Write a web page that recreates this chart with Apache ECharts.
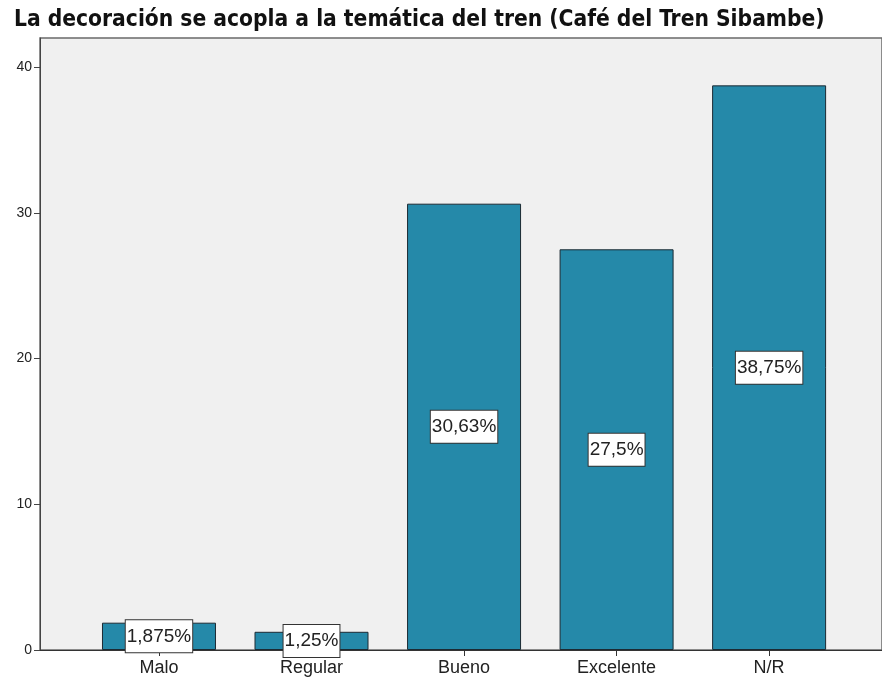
<!DOCTYPE html>
<html>
<head>
    <meta charset="utf-8">
    <script src="https://cdn.jsdelivr.net/npm/echarts@6/dist/echarts.min.js"></script>
    <style>
        html, body { margin: 0; padding: 0; background: #fff; }
    </style>
</head>
<body>
    <div id="main" style="width:882px;height:687px;"></div>
    <script type="text/javascript">
        // categorias y porcentajes
        var categorias = ['Malo', 'Regular', 'Bueno', 'Excelente', 'N/R'];
        var porcentajes = [1.875, 1.25, 30.63, 27.5, 38.75];
        var etiquetas = ['1,875%', '1,25%', '30,63%', '27,5%', '38,75%'];
        var yTicks = [0, 10, 20, 30, 40];

        var myChart = echarts.init(document.getElementById('main'));

        var datos = [];
        for (var i = 0; i < categorias.length; i++) {
            datos.push([i, porcentajes[i]]);
        }
        var posiciones = categorias.map(function (c, i) { return i; });

        var option = {
            animation: false,
            title: {
                text: 'La decoración se acopla a la temática del tren (Café del Tren Sibambe)',
                left: 9,
                top: 4,
                textStyle: {
                    fontFamily: 'DejaVu Sans Condensed',
                    fontWeight: 'bold',
                    fontSize: 22.6,
                    color: '#111'
                }
            },
            grid: {
                left: 40,
                right: 0,
                top: 38,
                bottom: 37,
                show: true,
                backgroundColor: '#f0f0f0',
                borderColor: '#6a6a6a',
                borderWidth: 1.5
            },
            xAxis: {
                type: 'value',
                min: -0.78,
                max: 4.74,
                splitLine: {show: false},
                axisLine: {lineStyle: {color: '#333'}},
                axisTick: {
                    show: true,
                    length: 6,
                    customValues: posiciones,
                    lineStyle: {color: '#333'}
                },
                axisLabel: {
                    customValues: posiciones,
                    formatter: function (v) { return categorias[Math.round(v)]; },
                    fontFamily: 'Liberation Sans',
                    fontSize: 18,
                    color: '#222',
                    margin: 9
                }
            },
            yAxis: {
                type: 'value',
                min: 0,
                max: 42,
                interval: 10,
                splitLine: {show: false},
                axisLine: {show: true, onZero: false, lineStyle: {color: '#444'}},
                axisTick: {
                    show: true,
                    length: 6,
                    customValues: yTicks,
                    lineStyle: {color: '#444'}
                },
                axisLabel: {
                    customValues: yTicks,
                    fontFamily: 'Liberation Sans',
                    fontSize: 14,
                    color: '#222',
                    margin: 8
                }
            },
            series: [{
                type: 'bar',
                data: datos,
                barWidth: 114,
                itemStyle: {
                    color: '#2589a9',
                    borderColor: '#1c2a33',
                    borderWidth: 1
                },
                label: {
                    show: true,
                    position: 'inside',
                    formatter: function (p) { return etiquetas[p.dataIndex]; },
                    fontFamily: 'Liberation Sans',
                    fontSize: 19,
                    color: '#222',
                    backgroundColor: '#fff',
                    borderColor: '#333',
                    borderWidth: 1,
                    padding: [7, 1, 6, 1]
                }
            }]
        };
        myChart.setOption(option);
    </script>
</body>
</html>
